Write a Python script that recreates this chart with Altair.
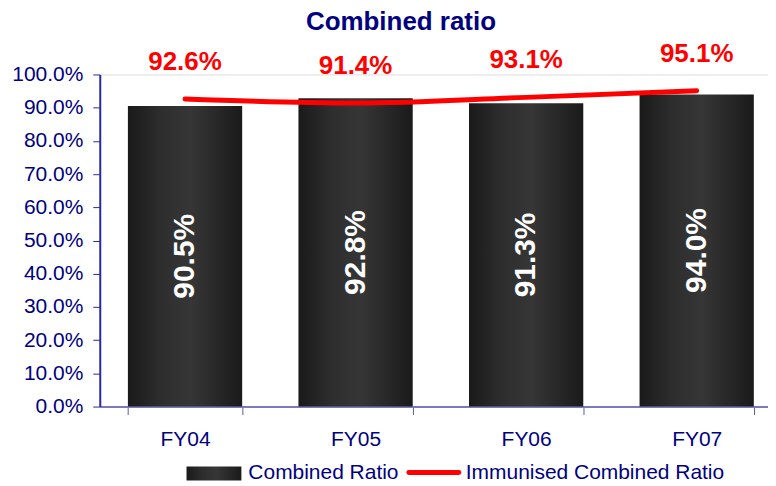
import altair as alt
import pandas as pd

years = ["FY04", "FY05", "FY06", "FY07"]
combined = [0.905, 0.928, 0.913, 0.940]
immunised = [0.926, 0.914, 0.931, 0.951]
ytick_values = [0.0, 0.1, 0.2, 0.3, 0.4, 0.5, 0.6, 0.7, 0.8, 0.9, 1.0]

df = pd.DataFrame({"year": years, "combined": combined, "immunised": immunised})
df["mid"] = df["combined"] / 2

NAVY = "#000080"
RED = "#ff0000"
FONT = "Liberation Sans"

grad = alt.Gradient(
    gradient="linear",
    stops=[
        alt.GradientStop(color="#1a1a1a", offset=0),
        alt.GradientStop(color="#2e2e2e", offset=0.3),
        alt.GradientStop(color="#363636", offset=0.55),
        alt.GradientStop(color="#1a1a1a", offset=1),
    ],
    x1=0, x2=1, y1=0, y2=0,
)

xaxis = alt.Axis(
    labelAngle=0, labelFont=FONT, labelFontSize=21, labelColor=NAVY,
    labelPadding=14, domainColor="#7a7ac0", domainWidth=2,
    tickColor="#5a5aa8", tickSize=8, tickBand="extent", tickWidth=1,
)
yaxis = alt.Axis(
    format=".1%", values=ytick_values, labelOverlap=False,
    labelFont=FONT, labelFontSize=21, labelColor=NAVY,
    labelPadding=10, domainColor="#2a2aa0", domainWidth=2,
    tickColor="#2a2aa0", tickSize=7, grid=False,
)
xscale = alt.Scale(paddingInner=0.33, paddingOuter=0.165, range=[0, 684])
yscale = alt.Scale(domain=[0, 1])


def X():
    return alt.X("year:N", sort=years, title=None, scale=xscale, axis=xaxis)


def Y(field):
    return alt.Y(field, scale=yscale, title=None, axis=yaxis)


bars = alt.Chart(df).mark_bar(color=grad).encode(x=X(), y=Y("combined:Q"))

bar_labels = alt.Chart(df).mark_text(
    angle=270, color="white", font=FONT, fontSize=30, fontWeight="bold",
    align="center", baseline="middle",
).encode(
    x=X(), y=Y("mid:Q"),
    text=alt.Text("combined:Q", format=".1%"),
)

line = alt.Chart(df).mark_line(
    color=RED, strokeWidth=5, strokeCap="round", interpolate="monotone"
).encode(x=X(), y=Y("immunised:Q"))

line_labels = alt.Chart(df).mark_text(
    color=RED, font=FONT, fontSize=26, fontWeight="bold",
    align="center", baseline="middle", dy=-37,
).encode(
    x=X(), y=Y("immunised:Q"),
    text=alt.Text("immunised:Q", format=".1%"),
)

leg_df = pd.DataFrame({"k": [0]})
title_mark = alt.Chart(leg_df).mark_text(
    text="Combined ratio", font=FONT, fontSize=26, fontWeight="bold",
    color=NAVY, align="center", baseline="middle",
).encode(x=alt.value(302), y=alt.value(-53))
leg_rect = alt.Chart(leg_df).mark_rect(color=grad).encode(
    x=alt.value(87), x2=alt.value(142), y=alt.value(393), y2=alt.value(407)
)
leg_text1 = alt.Chart(leg_df).mark_text(
    text="Combined Ratio", font=FONT, fontSize=21, color=NAVY,
    align="left", baseline="middle",
).encode(x=alt.value(149), y=alt.value(400))
leg_line = alt.Chart(leg_df).mark_rule(
    color=RED, strokeWidth=5, strokeCap="round"
).encode(x=alt.value(310), x2=alt.value(360), y=alt.value(399))
leg_text2 = alt.Chart(leg_df).mark_text(
    text="Immunised Combined Ratio", font=FONT, fontSize=21, color=NAVY,
    align="left", baseline="middle",
).encode(x=alt.value(367), y=alt.value(400))

chart = alt.layer(
    bars, bar_labels, line, line_labels, title_mark,
    leg_rect, leg_text1, leg_line, leg_text2
).properties(
    width=670,
    height=333,
    autosize="none",
    padding={"left": 92, "top": 66, "right": 0, "bottom": 78},
).configure_view(stroke=None).configure(background="white")

chart.save("out.html", embed_options={"renderer": "svg", "actions": False})
